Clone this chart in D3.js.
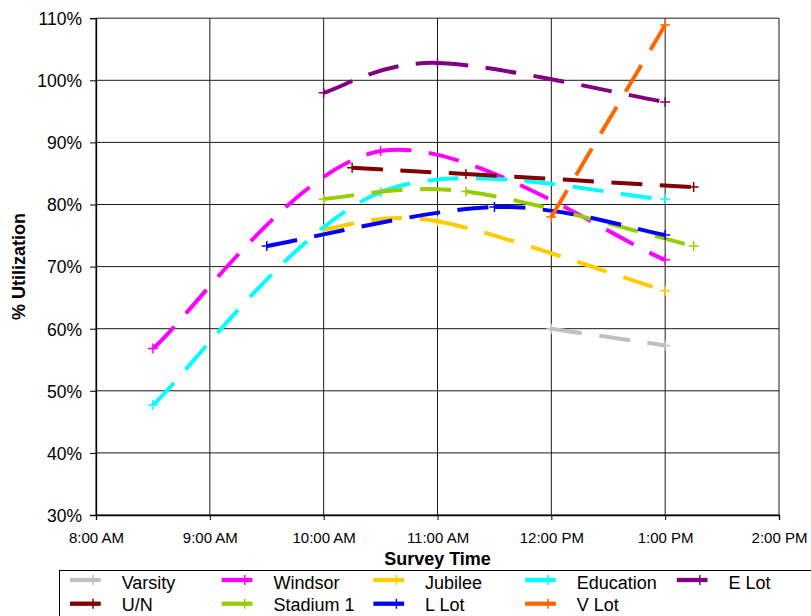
<!DOCTYPE html>
<html>
<head>
<meta charset="utf-8">
<script src="https://cdn.jsdelivr.net/npm/d3@7"></script>
<style>
  body { margin: 0; background: #fff; }
  svg { display: block; font-family: "Liberation Sans", Arial, sans-serif; }
</style>
</head>
<body>
<svg id="chart" width="811" height="616"></svg>
<script>
// ---------- DATA (time in hours of the day, value in % utilization) ----------
const seriesNames  = ["Varsity", "Windsor", "Jubilee", "Education", "E Lot", "U/N", "Stadium 1", "L Lot", "V Lot"];
const seriesColors = ["#C0C0C0", "#FF00FF", "#FFCC00", "#00FFFF", "#800080", "#800000", "#99CC00", "#0000FF", "#FF6600"];

const varsity   = [[12, 60.0], [13, 57.3]];
const windsor   = [[8.5, 56.8], [10.5, 88.6], [13, 71.1]];
const jubilee   = [[10, 76.0], [11, 77.3], [13, 66.1]];
const education = [[8.5, 47.7], [10.5, 82.0], [13, 80.9]];
const eLot      = [[10, 98.0], [11, 102.8], [13, 96.5]];
const uN        = [[10.25, 85.9], [11.25, 84.9], [13.25, 82.8]];
const stadium1  = [[10, 80.9], [11.25, 82.1], [13.25, 73.3]];
const lLot      = [[9.5, 73.3], [11.5, 79.6], [13, 75.1]];
const vLot      = [[12, 78.0], [13, 108.9]];
const seriesData = [varsity, windsor, jubilee, education, eLot, uN, stadium1, lLot, vLot];

const xTickHours  = [8, 9, 10, 11, 12, 13, 14];
const xTickLabels = ["8:00 AM", "9:00 AM", "10:00 AM", "11:00 AM", "12:00 PM", "1:00 PM", "2:00 PM"];
const yTickValues = [30, 40, 50, 60, 70, 80, 90, 100, 110];

// ---------- LAYOUT ----------
const svg = d3.select("#chart");
const plot = { left: 96, right: 779, top: 18.2, bottom: 515 };

const x = d3.scaleLinear().domain([8, 14]).range([plot.left, plot.right]);
const y = d3.scaleLinear().domain([30, 110]).range([plot.bottom, plot.top]);

// gridlines
const grid = svg.append("g");
grid.selectAll("line.h").data(yTickValues).join("line")
  .attr("x1", plot.left).attr("x2", plot.right)
  .attr("y1", d => y(d)).attr("y2", d => y(d))
  .attr("stroke", "#1a1a1a").attr("stroke-width", 1);
grid.selectAll("line.v").data(xTickHours).join("line")
  .attr("y1", plot.top).attr("y2", plot.bottom)
  .attr("x1", d => x(d)).attr("x2", d => x(d))
  .attr("stroke", "#1a1a1a").attr("stroke-width", 1);

// axes
const yAxis = d3.axisLeft(y).tickValues(yTickValues).tickFormat(d => d + "%").tickSize(6).tickPadding(8);
const gy = svg.append("g").attr("transform", `translate(${plot.left},0)`).call(yAxis);
gy.select(".domain").attr("stroke", "#000").attr("stroke-width", 1.3);
gy.selectAll(".tick line").attr("stroke", "#000");
gy.selectAll(".tick text").attr("font-size", 17.5).attr("fill", "#000")
  .attr("font-family", "Liberation Sans, Arial, sans-serif").attr("dy", "0.36em");

const xAxis = d3.axisBottom(x).tickValues(xTickHours).tickFormat((d, i) => xTickLabels[i]).tickSize(5).tickPadding(12);
const gx = svg.append("g").attr("transform", `translate(0,${plot.bottom})`).call(xAxis);
gx.select(".domain").attr("stroke", "#000").attr("stroke-width", 1.3);
gx.selectAll(".tick line").attr("stroke", "#000");
gx.selectAll(".tick text").attr("font-size", 15).attr("fill", "#000")
  .attr("font-family", "Liberation Sans, Arial, sans-serif");

// axis titles
svg.append("text").attr("x", (plot.left + plot.right) / 2).attr("y", 565)
  .attr("text-anchor", "middle").attr("font-weight", "bold").attr("font-size", 18)
  .text("Survey Time");
svg.append("text").attr("transform", `translate(25,${(plot.top + plot.bottom) / 2}) rotate(-90)`)
  .attr("text-anchor", "middle").attr("font-weight", "bold").attr("font-size", 18)
  .text("% Utilization");

// ---------- SERIES (Excel-style smoothed line, dash restarts per segment) ----------
function segmentPaths(pts) {
  const p = pts.map(d => [x(d[0]), y(d[1])]);
  const n = p.length, out = [];
  for (let i = 0; i < n - 1; i++) {
    const p0 = p[Math.max(i - 1, 0)], p1 = p[i], p2 = p[i + 1], p3 = p[Math.min(i + 2, n - 1)];
    const c1 = [p1[0] + (p2[0] - p0[0]) / 6, p1[1] + (p2[1] - p0[1]) / 6];
    const c2 = [p2[0] - (p3[0] - p1[0]) / 6, p2[1] - (p3[1] - p1[1]) / 6];
    const path = d3.path();
    path.moveTo(p1[0], p1[1]);
    path.bezierCurveTo(c1[0], c1[1], c2[0], c2[1], p2[0], p2[1]);
    out.push(path.toString());
  }
  return out;
}
const plusMarker = "M-5,0H5M0,-5V5";

seriesData.forEach((pts, si) => {
  const g = svg.append("g");
  g.selectAll("path.seg").data(segmentPaths(pts)).join("path")
    .attr("d", d => d).attr("fill", "none")
    .attr("stroke", seriesColors[si]).attr("stroke-width", 4)
    .attr("stroke-dasharray", "31,17.5").attr("stroke-linecap", "butt");
  g.selectAll("path.mk").data(pts).join("path")
    .attr("d", plusMarker)
    .attr("transform", d => `translate(${x(d[0])},${y(d[1])})`)
    .attr("fill", "none").attr("stroke", seriesColors[si]).attr("stroke-width", 1.5);
});

// ---------- LEGEND ----------
const legend = svg.append("g");
legend.append("rect").attr("x", 59.5).attr("y", 570.5).attr("width", 800).attr("height", 80)
  .attr("fill", "#fff").attr("stroke", "#000").attr("stroke-width", 1);
seriesNames.forEach((name, i) => {
  const col = i % 5, row = Math.floor(i / 5);
  const lx = 70 + col * 151.7;
  const ly = row === 0 ? 580 : 603.7;
  legend.append("line").attr("x1", lx).attr("x2", lx + 30.7).attr("y1", ly).attr("y2", ly)
    .attr("stroke", seriesColors[i]).attr("stroke-width", 4.3);
  legend.append("path").attr("d", plusMarker).attr("transform", `translate(${lx + 23},${ly})`)
    .attr("fill", "none").attr("stroke", seriesColors[i]).attr("stroke-width", 1.5);
  legend.append("text").attr("x", lx + 51.7).attr("y", row === 0 ? 589.3 : 610.5)
    .attr("font-size", 18).attr("fill", "#000").text(name);
});
</script>
</body>
</html>
